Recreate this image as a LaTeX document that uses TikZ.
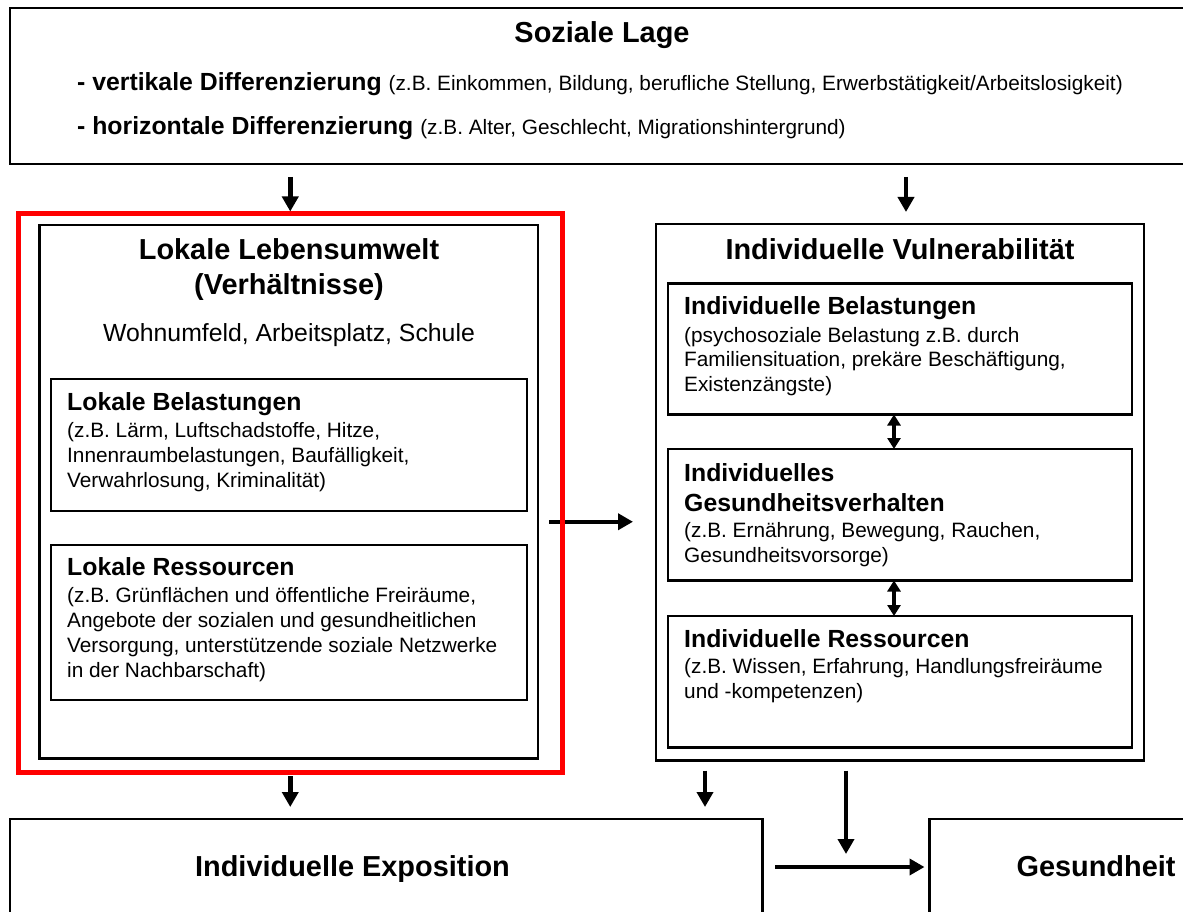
\documentclass[tikz,border=0pt]{standalone}
\usepackage{fontspec}
\setmainfont{Liberation Sans}
\usepackage{tikz}
\usetikzlibrary{arrows.meta,calc}
\usetikzlibrary{positioning}

\newcommand{\gross}{\fontsize{28.9}{35}\selectfont\bfseries}
\newcommand{\mittel}{\fontsize{24.8}{30}\selectfont}
\newcommand{\klein}{\fontsize{20.8}{24.8}\selectfont}

\tikzstyle{rahmen}=[draw, line width=2.5pt, anchor=north west, inner sep=0pt, outer sep=0pt]
\tikzstyle{rot_rahmen}=[rahmen, draw=red, line width=5pt]
\tikzstyle{titel}=[font=\gross, inner sep=0pt, anchor=base]
\tikzstyle{kopf}=[font=\mittel\bfseries, inner sep=0pt, anchor=base west]
\tikzstyle{zeile}=[font=\mittel, inner sep=0pt, anchor=base west]
\tikzstyle{text_klein}=[font=\klein, inner sep=0pt, anchor=north west, align=left]
\tikzstyle{pfeil}=[->, >={Triangle[length=15pt,width=16pt]}, line width=4.5pt]
\tikzstyle{doppelpfeil}=[<->, >={Triangle[length=11pt,width=13pt]}, line width=3.5pt]

\begin{document}
\begin{tikzpicture}[x=1pt, y=-1pt]
	\clip (0,0) rectangle (1183,912);
	\fill[white] (0,0) rectangle (1183,912);

	% Soziale Lage
	\node[rahmen, minimum width=1184pt, minimum height=156pt] (lage) at (10,8) {};
	\node[titel] (lageT) at (602,43) {Soziale Lage};
	\node[zeile] (vert) at (77,90.5) {{\bfseries - vertikale Differenzierung} {\klein (z.B. Einkommen, Bildung, berufliche Stellung, Erwerbstätigkeit/Arbeitslosigkeit)}};
	\node[zeile] (hori) at (77,135) {{\bfseries - horizontale Differenzierung} {\klein (z.B. Alter, Geschlecht, Migrationshintergrund)}};

	% Lokale Lebensumwelt
	\node[rahmen, minimum width=498.5pt, minimum height=533.5pt] (lokal) at (39.5,225) {};
	\node[titel, align=center, anchor=north] (lokalT) at (289,238.3) {Lokale Lebensumwelt\\(Verhältnisse)};
	\node[zeile, anchor=base] (wohn) at (289,341) {Wohnumfeld, Arbeitsplatz, Schule};

	\node[rahmen, minimum width=476pt, minimum height=132pt] (lb) at (51,379) {};
	\node[kopf] (lbT) at (67,410) {Lokale Belastungen};
	\node[text_klein] (lbX) at (67,422.4) {(z.B. Lärm, Luftschadstoffe, Hitze,\\Innenraumbelastungen, Baufälligkeit,\\Verwahrlosung, Kriminalität)};

	\node[rahmen, minimum width=476pt, minimum height=155pt] (lr) at (51,545) {};
	\node[kopf] (lrT) at (67,575.5) {Lokale Ressourcen};
	\node[text_klein] (lrX) at (67,587.5) {(z.B. Grünflächen und öffentliche Freiräume,\\Angebote der sozialen und gesundheitlichen\\Versorgung, unterstützende soziale Netzwerke\\in der Nachbarschaft)};

	% Individuelle Vulnerabilitaet
	\node[rahmen, minimum width=488pt, minimum height=536.5pt] (vuln) at (656,224) {};
	\node[titel] (vulnT) at (900,259) {Individuelle Vulnerabilität};

	\node[rahmen, minimum width=464pt, minimum height=131pt] (ib1) at (668,283.5) {};
	\node[kopf] (ib1T) at (684,314.5) {Individuelle Belastungen};
	\node[text_klein] (ib1X) at (684,326.9) {(psychosoziale Belastung z.B. durch\\Familiensituation, prekäre Beschäftigung,\\Existenzängste)};

	\node[rahmen, minimum width=464pt, minimum height=131.5pt] (ib2) at (668,449) {};
	\node[kopf, align=left, anchor=north west] (ib2T) at (684,463.8) {Individuelles\\Gesundheitsverhalten};
	\node[text_klein] (ib2X) at (684,522.4) {(z.B. Ernährung, Bewegung, Rauchen,\\Gesundheitsvorsorge)};

	\node[rahmen, minimum width=464pt, minimum height=131.5pt] (ib3) at (668,616) {};
	\node[kopf] (ib3T) at (684,647) {Individuelle Ressourcen};
	\node[text_klein] (ib3X) at (684,658) {(z.B. Wissen, Erfahrung, Handlungsfreiräume\\und -kompetenzen)};

	\draw[doppelpfeil] ([xshift=-6pt]ib1.south) -- ([xshift=-6pt]ib2.north);
	\draw[doppelpfeil] ([xshift=-6pt]ib2.south) -- ([xshift=-6pt]ib3.north);

	\draw[pfeil, shorten <=11pt, shorten >=23pt] ([yshift=-30pt]lokal.east) -- ([yshift=-30pt]lokal.east -| vuln.west);

	% roter Rahmen
	\node[rot_rahmen, minimum width=544.5pt, minimum height=558pt] (rot) at (18,214) {};
	\draw[pfeil, shorten <=13pt] (rot.north |- lage.south) -- ([yshift=2.5pt]rot.north);
	\draw[pfeil, shorten <=13pt, shorten >=12pt] ([xshift=6pt]vuln.north |- lage.south) -- ([xshift=6pt]vuln.north);

	% Exposition und Gesundheit
	\node[rahmen, minimum width=752.5pt, minimum height=96pt] (expo) at (10,819) {};
	\node[titel] (expoT) at (352.5,876) {Individuelle Exposition};
	\node[rahmen, minimum width=270pt, minimum height=96pt] (ges) at (929.5,819) {};
	\node[titel] (gesT) at (1096,876) {Gesundheit};

	\draw[pfeil, shorten <=4pt, shorten >=12pt] (rot.south) -- (expo.north -| rot.south);
	\draw[pfeil, shorten <=10pt, shorten >=12pt] ([xshift=-195pt]vuln.south) -- ([xshift=-195pt]vuln.south |- expo.north);
	\draw[pfeil, shorten <=12.5pt, shorten >=5pt] (expo.east) -- coordinate[pos=0.5] (mitte) (expo.east -| ges.west);
	\draw[pfeil, shorten <=10pt, shorten >=13pt] (vuln.south -| mitte) -- (mitte);

\end{tikzpicture}
\end{document}
